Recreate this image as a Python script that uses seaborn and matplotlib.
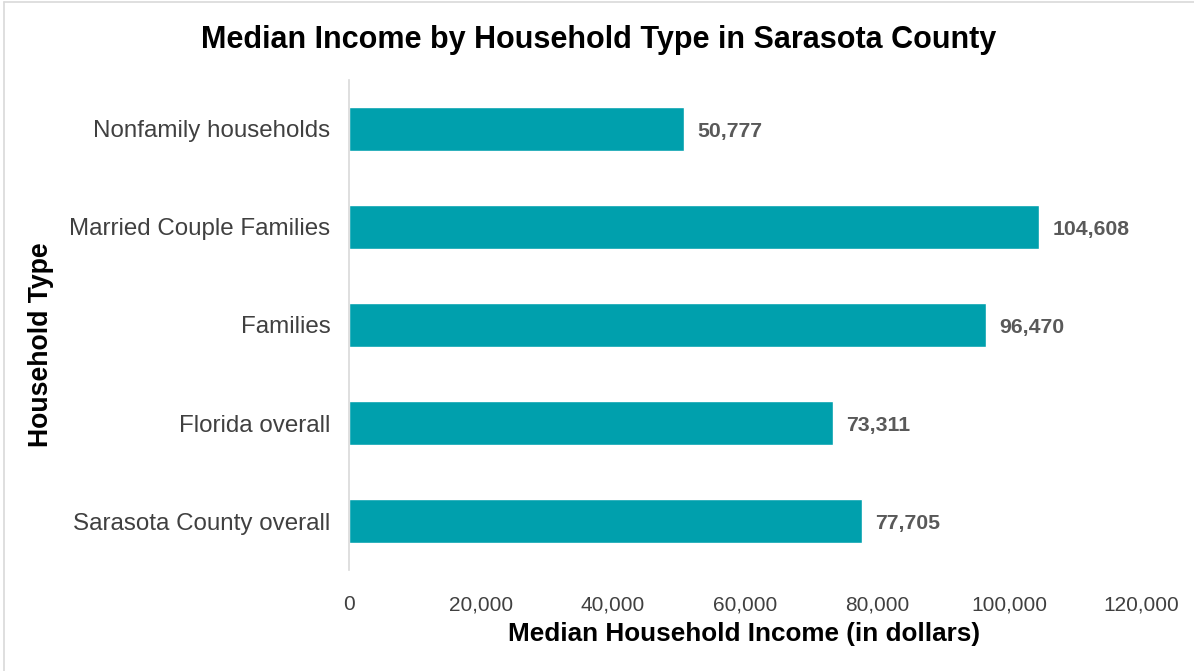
import matplotlib
matplotlib.use("Agg")
import matplotlib.pyplot as plt
from matplotlib.lines import Line2D
from matplotlib.ticker import FuncFormatter
import seaborn as sns
import pandas as pd

categories = [
    "Nonfamily households",
    "Married Couple Families",
    "Families",
    "Florida overall",
    "Sarasota County overall",
]
incomes = [50777, 104608, 96470, 73311, 77705]
x_ticks = [0, 20000, 40000, 60000, 80000, 100000, 120000]

df = pd.DataFrame({"Household Type": categories, "Income": incomes})

sns.set_theme(style="white")
plt.rcParams["font.family"] = ["Liberation Sans", "DejaVu Sans"]

fig = plt.figure(figsize=(11.94, 6.71), dpi=100)
ax = fig.add_axes([0.2923, 0.1505, 0.6633, 0.7303])

sns.barplot(data=df, x="Income", y="Household Type", order=categories,
            color="#00A0AD", saturation=1, width=0.45, ax=ax)

ax.set_xlim(0, 120000)
ax.set_xticks(x_ticks)
ax.xaxis.set_major_formatter(FuncFormatter(lambda v, p: f"{int(v):,}"))
ax.tick_params(axis="x", labelsize=15, colors="#404040", length=0, pad=18)
ax.tick_params(axis="y", labelsize=17.4, colors="#404040", length=0, pad=13.5)

for s in ["top", "right", "bottom"]:
    ax.spines[s].set_visible(False)
ax.spines["left"].set_color("#d9d9d9")
ax.spines["left"].set_linewidth(1.2)

for i, v in enumerate(incomes):
    ax.text(v + 2000, i + 0.03, f"{v:,}", va="center", ha="left",
            fontsize=15.3, fontweight="bold", color="#595959")

ax.set_xlabel("Median Household Income (in dollars)", fontsize=18.8,
              fontweight="bold", color="black")
ax.set_ylabel("Household Type", fontsize=19.2, fontweight="bold",
              color="black")
ax.xaxis.label.set_va("center")
ax.yaxis.label.set_va("center")
ax.xaxis.set_label_coords(0.4987, -0.131)
ax.yaxis.set_label_coords(-0.389, 0.459)

fig.text(0.5015, 0.941, "Median Income by Household Type in Sarasota County",
         ha="center", va="center", fontsize=22, fontweight="bold",
         color="black")

# thin frame lines along the left and top edges
fig.add_artist(Line2D([0.0035, 0.0035], [0.0, 0.997], transform=fig.transFigure,
                      color="#d9d9d9", lw=1.2))
fig.add_artist(Line2D([0.0035, 1.0], [0.997, 0.997], transform=fig.transFigure,
                      color="#d9d9d9", lw=1.2))

fig.savefig("out.png", dpi=100)
